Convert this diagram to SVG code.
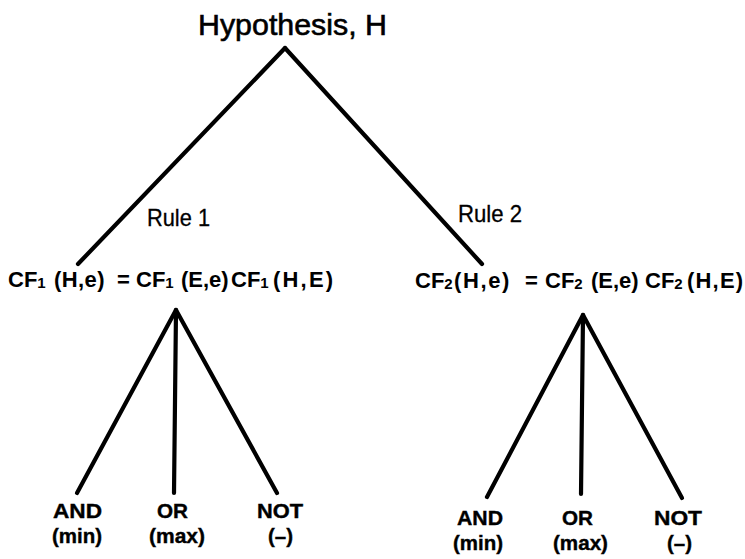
<svg xmlns="http://www.w3.org/2000/svg" width="745" height="559" viewBox="0 0 745 559">
  <style>
    .edge { stroke: #000; stroke-width: 4.2; stroke-linecap: round; fill: none; }
    text { font-family: "Liberation Sans", Arial, sans-serif; fill: #000; }
    .title { font-size: 30px; stroke: #000; stroke-width: 0.6; }
    .rule { font-size: 24px; stroke: #000; stroke-width: 0.3; }
    .cf { font-size: 22px; font-weight: bold; }
    .sub { font-size: 15px; }
    .op { font-size: 21px; font-weight: bold; stroke: #000; stroke-width: 0.4; }
  </style>
  <rect width="745" height="559" fill="#fff"/>

  <!-- connectors -->
  <g id="connectors">
    <line class="edge" x1="285" y1="48" x2="78" y2="264"/>
    <line class="edge" x1="285" y1="48" x2="482" y2="264"/>
    <line class="edge" x1="176" y1="310" x2="77" y2="493"/>
    <line class="edge" x1="176" y1="310" x2="174" y2="493"/>
    <line class="edge" x1="176" y1="310" x2="277" y2="493"/>
    <line class="edge" x1="583" y1="315" x2="487" y2="497"/>
    <line class="edge" x1="583" y1="315" x2="581" y2="494"/>
    <line class="edge" x1="583" y1="315" x2="682" y2="498"/>
  </g>

  <!-- root -->
  <g id="hypothesis">
    <text class="title" x="198" y="35" textLength="189" lengthAdjust="spacingAndGlyphs">Hypothesis, H</text>
  </g>

  <!-- rule labels -->
  <g id="rule1-label">
    <text class="rule" x="147" y="226" textLength="63" lengthAdjust="spacingAndGlyphs">Rule 1</text>
  </g>
  <g id="rule2-label">
    <text class="rule" x="458" y="222" textLength="64" lengthAdjust="spacingAndGlyphs">Rule 2</text>
  </g>

  <!-- rule 1 certainty factor -->
  <g id="cf1">
    <text class="cf"><tspan x="8" y="287">CF</tspan><tspan class="sub" y="288">1</tspan><tspan x="54" y="287" letter-spacing="0.4">(H,e)</tspan><tspan x="117" y="287">=</tspan><tspan x="136" y="287">CF</tspan><tspan class="sub" y="288">1</tspan><tspan x="181" y="287">(E,e)</tspan><tspan x="231" y="287">CF</tspan><tspan class="sub" y="288">1</tspan><tspan x="273" y="287" letter-spacing="2.2">(H,E)</tspan></text>
  </g>

  <!-- rule 2 certainty factor -->
  <g id="cf2">
    <text class="cf"><tspan x="415" y="288">CF</tspan><tspan class="sub" y="289">2</tspan><tspan x="454" y="288" letter-spacing="1.6">(H,e)</tspan><tspan x="525" y="288">=</tspan><tspan x="545" y="288">CF</tspan><tspan class="sub" y="289">2</tspan><tspan x="591" y="288">(E,e)</tspan><tspan x="645" y="288">CF</tspan><tspan class="sub" y="289">2</tspan><tspan x="687" y="288" letter-spacing="1.2">(H,E)</tspan></text>
  </g>

  <!-- rule 1 combination operators -->
  <g id="and1">
    <text class="op" x="53" y="518" textLength="49" lengthAdjust="spacingAndGlyphs">AND</text>
    <text class="op" x="52" y="543" textLength="50" lengthAdjust="spacingAndGlyphs">(min)</text>
  </g>
  <g id="or1">
    <text class="op" x="157" y="518" textLength="31" lengthAdjust="spacingAndGlyphs">OR</text>
    <text class="op" x="149" y="543" textLength="56" lengthAdjust="spacingAndGlyphs">(max)</text>
  </g>
  <g id="not1">
    <text class="op" x="257" y="518" textLength="46" lengthAdjust="spacingAndGlyphs">NOT</text>
    <text class="op" x="268" y="543" textLength="25" lengthAdjust="spacingAndGlyphs">(–)</text>
  </g>

  <!-- rule 2 combination operators -->
  <g id="and2">
    <text class="op" x="457" y="525" textLength="46" lengthAdjust="spacingAndGlyphs">AND</text>
    <text class="op" x="453" y="550" textLength="50" lengthAdjust="spacingAndGlyphs">(min)</text>
  </g>
  <g id="or2">
    <text class="op" x="562" y="525" textLength="31" lengthAdjust="spacingAndGlyphs">OR</text>
    <text class="op" x="553" y="550" textLength="55" lengthAdjust="spacingAndGlyphs">(max)</text>
  </g>
  <g id="not2">
    <text class="op" x="654" y="525" textLength="48" lengthAdjust="spacingAndGlyphs">NOT</text>
    <text class="op" x="667" y="550" textLength="25" lengthAdjust="spacingAndGlyphs">(–)</text>
  </g>
</svg>
